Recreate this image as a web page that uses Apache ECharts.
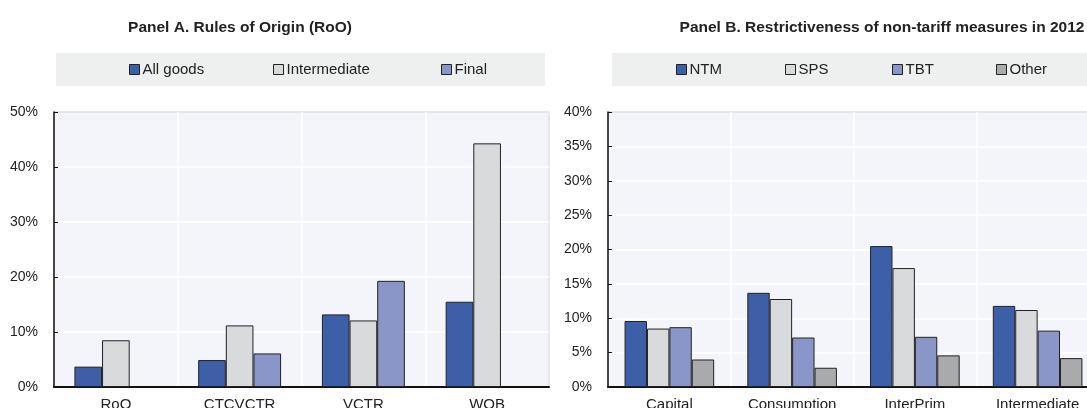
<!DOCTYPE html>
<html>
<head>
<meta charset="utf-8">
<script src="https://cdn.jsdelivr.net/npm/echarts@6/dist/echarts.min.js"></script>
<style>
  html, body { margin: 0; padding: 0; background: #fff; }
  #chart { width: 1087px; height: 408px; }
</style>
</head>
<body>
<div id="chart"></div>
<script type="text/javascript">
// Panel A data
var categoriesA = ['RoO', 'CTCVCTR', 'VCTR', 'WOB'];
var allGoods = [3.7, 4.9, 13.2, 15.5];
var intermediateGoods = [8.5, 11.2, 12.1, 44.3];
var finalGoods = [null, 6.1, 19.3, null];

// Panel B data
var categoriesB = ['Capital', 'Consumption', 'InterPrim', 'Intermediate'];
var ntm = [9.6, 13.7, 20.5, 11.8];
var sps = [8.5, 12.8, 17.3, 11.2];
var tbt = [8.7, 7.2, 7.3, 8.2];
var other = [4.0, 2.8, 4.6, 4.2];

var FONT = '"Liberation Sans", Arial, sans-serif';
var colBlue = '#3d5fa8', colLight = '#d9dadc', colLav = '#8a96c8', colGrey = '#a9aaab';

function barSeries(name, data, color, axis, catGap) {
    return {
        name: name, type: 'bar', data: data,
        xAxisIndex: axis, yAxisIndex: axis,
        barGap: '0%', barCategoryGap: catGap,
        itemStyle: { color: color, borderColor: '#222', borderWidth: 1 },
        emphasis: { disabled: true }
    };
}

function legendItem(name, x) {
    return {
        data: [name], left: x, top: 62, padding: 0,
        itemWidth: 10, itemHeight: 10, itemGap: 3,
        icon: 'rect', selectedMode: false,
        textStyle: { fontFamily: FONT, fontSize: 15, color: '#222', padding: [0, 0, 0, -2] },
        itemStyle: { borderColor: '#222', borderWidth: 1 }
    };
}

var xBase = {
    type: 'category',
    axisLine: { lineStyle: { color: '#111', width: 2 } },
    axisTick: { inside: true, length: 4, lineStyle: { color: '#111' } },
    axisLabel: { fontFamily: FONT, fontSize: 15, color: '#222', margin: 10 },
    splitLine: { show: true, lineStyle: { color: '#fff', width: 1.5 } }
};
function yAxis(idx, max, step) {
    return {
        type: 'value', gridIndex: idx, min: 0, max: max, interval: step,
        axisLine: { show: true, lineStyle: { color: '#111', width: 1.5 } },
        axisTick: { show: true, inside: true, length: 4, lineStyle: { color: '#111' } },
        axisLabel: { fontFamily: FONT, fontSize: 14, color: '#222', margin: 16, formatter: '{value}%' },
        splitLine: { lineStyle: { color: '#fff', width: 1.5 } }
    };
}

var chart = echarts.init(document.getElementById('chart'));
chart.setOption({
    animation: false,
    title: [
        { text: 'Panel A. Rules of Origin (RoO)', left: 235, top: 15, textAlign: 'center',
          textStyle: { fontFamily: FONT, fontSize: 15.5, fontWeight: 'bold', color: '#222' } },
        { text: 'Panel B. Restrictiveness of non-tariff measures in 2012', left: 877, top: 15, textAlign: 'center',
          textStyle: { fontFamily: FONT, fontSize: 15.5, fontWeight: 'bold', color: '#222' } }
    ],
    graphic: [
        { type: 'rect', z: -10, shape: { x: 56, y: 53, width: 489, height: 33 }, style: { fill: '#eef0f0' } },
        { type: 'rect', z: -10, shape: { x: 612, y: 53, width: 480, height: 33 }, style: { fill: '#eef0f0' } }
    ],
    legend: [
        legendItem('All goods', 129),
        legendItem('Intermediate', 273),
        legendItem('Final', 441),
        legendItem('NTM', 676),
        legendItem('SPS', 785),
        legendItem('TBT', 892),
        legendItem('Other', 996)
    ],
    grid: [
        { left: 54, top: 112, width: 495, height: 275, show: true, outerBoundsMode: 'none',
          backgroundColor: '#f4f5fa', borderColor: '#444', borderWidth: 1 },
        { left: 608, top: 112, width: 491, height: 275, show: true, outerBoundsMode: 'none',
          backgroundColor: '#f4f5fa', borderColor: '#444', borderWidth: 1 }
    ],
    xAxis: [
        Object.assign({}, xBase, { gridIndex: 0, data: categoriesA }),
        Object.assign({}, xBase, { gridIndex: 1, data: categoriesB })
    ],
    yAxis: [ yAxis(0, 50, 10), yAxis(1, 40, 5) ],
    series: [
        barSeries('All goods', allGoods, colBlue, 0, '33%'),
        barSeries('Intermediate', intermediateGoods, colLight, 0, '33%'),
        barSeries('Final', finalGoods, colLav, 0, '33%'),
        barSeries('NTM', ntm, colBlue, 1, '27%'),
        barSeries('SPS', sps, colLight, 1, '27%'),
        barSeries('TBT', tbt, colLav, 1, '27%'),
        barSeries('Other', other, colGrey, 1, '27%')
    ]
});
</script>
</body>
</html>
